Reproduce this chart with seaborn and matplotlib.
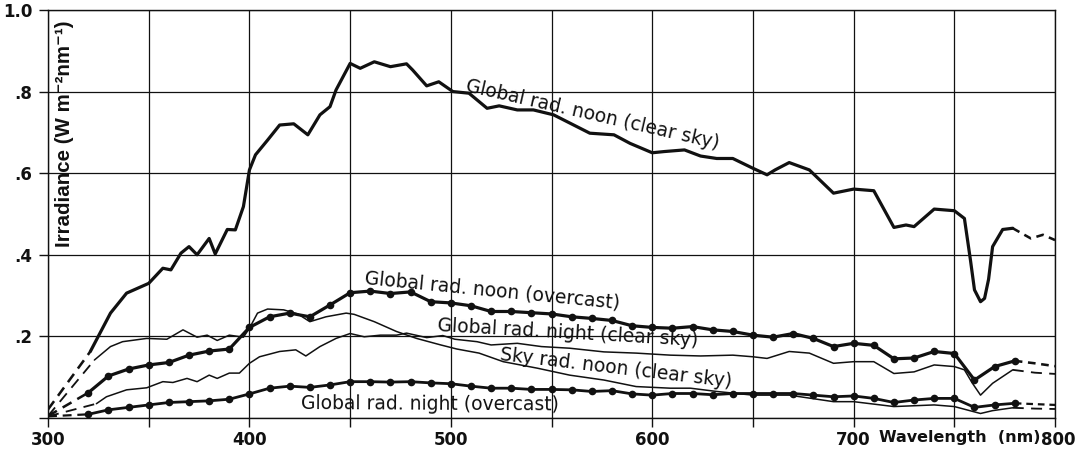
import matplotlib
matplotlib.use("Agg")
import matplotlib.pyplot as plt
import matplotlib.transforms as mtransforms
import seaborn as sns
import pandas as pd

# ---- spectral irradiance data (wavelength in nm, irradiance in W m-2 nm-1) ----
noon_clear_wl = [321, 331, 339, 350, 357, 361, 366, 370, 374, 380, 383, 389, 393, 397,
                 400, 403, 409, 415, 422, 429, 435, 440, 443, 450, 455, 462, 470, 478,
                 481, 488, 494, 501, 509, 518, 524, 533, 541, 551, 561, 569, 581, 589,
                 600, 606, 616, 624, 632, 640, 650, 657, 661, 668, 678, 690, 700, 710,
                 720, 726, 730, 740, 750, 755, 758, 760, 763, 765, 767, 769, 774, 779]
noon_clear_val = [0.163, 0.257, 0.306, 0.330, 0.367, 0.363, 0.404, 0.420, 0.400, 0.440,
                  0.402, 0.462, 0.461, 0.518, 0.608, 0.645, 0.681, 0.718, 0.721, 0.694,
                  0.743, 0.763, 0.804, 0.869, 0.857, 0.873, 0.861, 0.868, 0.853, 0.814,
                  0.824, 0.800, 0.796, 0.759, 0.765, 0.755, 0.755, 0.743, 0.718, 0.698,
                  0.694, 0.673, 0.650, 0.653, 0.657, 0.642, 0.636, 0.636, 0.612, 0.596,
                  0.608, 0.626, 0.608, 0.551, 0.561, 0.557, 0.467, 0.473, 0.469, 0.512,
                  0.508, 0.489, 0.387, 0.314, 0.285, 0.293, 0.340, 0.420, 0.462, 0.465]
noon_clear_uv_wl = [300, 321]
noon_clear_uv_val = [0.021, 0.163]
noon_clear_ir_wl = [779, 788, 794, 800]
noon_clear_ir_val = [0.465, 0.440, 0.449, 0.436]

dot_wl = [320, 330, 340, 350, 360, 370, 380, 390, 400, 410, 420, 430, 440, 450, 460,
          470, 480, 490, 500, 510, 520, 530, 540, 550, 560, 570, 580, 590, 600, 610,
          620, 630, 640, 650, 660, 670, 680, 690, 700, 710, 720, 730, 740, 750, 760,
          770, 780]
noon_overcast_val = [0.062, 0.103, 0.120, 0.130, 0.136, 0.154, 0.164, 0.169, 0.222, 0.248,
                     0.257, 0.248, 0.277, 0.307, 0.311, 0.305, 0.309, 0.285, 0.282, 0.275,
                     0.261, 0.261, 0.258, 0.255, 0.248, 0.244, 0.239, 0.226, 0.222, 0.220,
                     0.224, 0.216, 0.212, 0.203, 0.198, 0.207, 0.195, 0.175, 0.183, 0.178,
                     0.145, 0.147, 0.163, 0.158, 0.093, 0.126, 0.140]
noon_overcast_uv_wl = [300, 320]
noon_overcast_uv_val = [0.005, 0.062]
noon_overcast_ir_wl = [780, 790, 800]
noon_overcast_ir_val = [0.140, 0.134, 0.127]

night_overcast_val = [0.009, 0.020, 0.026, 0.032, 0.038, 0.040, 0.042, 0.046, 0.059, 0.073,
                      0.078, 0.075, 0.081, 0.089, 0.089, 0.088, 0.089, 0.086, 0.084, 0.078,
                      0.073, 0.073, 0.070, 0.070, 0.069, 0.065, 0.067, 0.059, 0.056, 0.060,
                      0.060, 0.057, 0.060, 0.060, 0.060, 0.060, 0.056, 0.052, 0.054, 0.048,
                      0.038, 0.044, 0.048, 0.048, 0.026, 0.032, 0.036]
night_overcast_uv_wl = [300, 320]
night_overcast_uv_val = [0.004, 0.009]
night_overcast_ir_wl = [780, 790, 800]
night_overcast_ir_val = [0.036, 0.034, 0.032]

night_clear_wl = [324, 329, 339, 349, 357, 362, 369, 374, 380, 384, 390, 395, 400, 405,
                  415, 423, 428, 435, 443, 450, 457, 465, 473, 478, 488, 496, 502, 513,
                  520, 533, 545, 559, 576, 592, 609, 624, 640, 650, 657, 668, 678, 690,
                  700, 710, 720, 730, 740, 750, 755, 759, 763, 769, 779]
night_clear_val = [0.035, 0.052, 0.069, 0.074, 0.089, 0.087, 0.097, 0.089, 0.105, 0.097,
                   0.110, 0.110, 0.134, 0.150, 0.163, 0.167, 0.152, 0.175, 0.195, 0.207,
                   0.199, 0.203, 0.203, 0.208, 0.197, 0.202, 0.193, 0.187, 0.179, 0.183,
                   0.175, 0.171, 0.162, 0.159, 0.154, 0.152, 0.154, 0.150, 0.146, 0.163,
                   0.159, 0.134, 0.138, 0.138, 0.109, 0.113, 0.130, 0.126, 0.118, 0.085,
                   0.056, 0.085, 0.118]
night_clear_uv_wl = [300, 324]
night_clear_uv_val = [0.004, 0.035]
night_clear_ir_wl = [779, 790, 800]
night_clear_ir_val = [0.118, 0.111, 0.108]

sky_noon_wl = [323, 331, 337, 349, 359, 367, 374, 379, 384, 390, 397, 400, 404, 409, 417,
               424, 430, 438, 448, 452, 462, 473, 483, 495, 503, 514, 526, 543, 559, 576,
               592, 609, 619, 632, 650, 668, 690, 700, 720, 740, 750, 763, 769, 779]
sky_noon_val = [0.142, 0.175, 0.187, 0.195, 0.193, 0.216, 0.198, 0.203, 0.190, 0.203,
                0.198, 0.220, 0.257, 0.267, 0.265, 0.255, 0.236, 0.248, 0.257, 0.254,
                0.236, 0.212, 0.195, 0.179, 0.169, 0.159, 0.138, 0.122, 0.105, 0.093,
                0.077, 0.073, 0.073, 0.065, 0.056, 0.056, 0.040, 0.040, 0.028, 0.032,
                0.028, 0.011, 0.018, 0.025]
sky_noon_uv_wl = [300, 323]
sky_noon_uv_val = [0.005, 0.142]
sky_noon_ir_wl = [779, 790, 800]
sky_noon_ir_val = [0.025, 0.023, 0.022]

curve_labels = ["Global rad. noon (clear sky)", "Global rad. noon (overcast)",
                "Global rad. night (clear sky)", "Sky rad. noon (clear sky)",
                "Global rad. night (overcast)"]

x_ticks = [300, 350, 400, 450, 500, 550, 600, 650, 700, 750, 800]
x_tick_labels = ["300", "", "400", "", "500", "", "600", "", "700", "", "800"]
y_ticks = [0.0, 0.2, 0.4, 0.6, 0.8, 1.0]
y_tick_labels = ["", ".2", ".4", ".6", ".8", "1.0"]

# ---- styling ----
sns.set_theme(style="white")
plt.rcParams["font.family"] = ["DejaVu Sans"]
YLABEL_FONT = ["Liberation Sans", "DejaVu Sans"]

fig = plt.figure(figsize=(10.87, 4.53), dpi=100)
ax = fig.add_axes([0.0442, 0.0773, 0.9264, 0.9007])

INK = "#111111"
THICK = 2.3
MEDIUM = 2.0
THIN = 1.1


def solid(wl, val, lw, marker=None):
    df = pd.DataFrame({"wl": wl, "val": val})
    sns.lineplot(data=df, x="wl", y="val", ax=ax, color=INK, lw=lw, sort=False,
                 marker=marker, markersize=5.5, markeredgewidth=0,
                 markerfacecolor=INK, zorder=3)


def dashed(wl, val, lw, pattern):
    df = pd.DataFrame({"wl": wl, "val": val})
    sns.lineplot(data=df, x="wl", y="val", ax=ax, color=INK, lw=lw, sort=False,
                 zorder=3, linestyle=(0, pattern))


# global radiation at noon, clear sky
solid(noon_clear_wl, noon_clear_val, THICK)
dashed(noon_clear_uv_wl, noon_clear_uv_val, THICK * 0.8, (4, 2.6))
dashed(noon_clear_ir_wl, noon_clear_ir_val, THICK * 0.8, (3, 2.2))

# global radiation at noon, overcast (dotted curve)
solid(dot_wl, noon_overcast_val, THICK, marker="o")
dashed(noon_overcast_uv_wl, noon_overcast_uv_val, THICK * 0.8, (4, 2.6))
dashed(noon_overcast_ir_wl, noon_overcast_ir_val, THICK * 0.8, (3, 2.2))

# global radiation at night, overcast (dotted curve)
solid(dot_wl, night_overcast_val, MEDIUM, marker="o")
dashed(night_overcast_uv_wl, night_overcast_uv_val, MEDIUM * 0.8, (4, 2.6))
dashed(night_overcast_ir_wl, night_overcast_ir_val, MEDIUM * 0.8, (3, 2.2))

# global radiation at night, clear sky
solid(night_clear_wl, night_clear_val, THIN)
dashed(night_clear_uv_wl, night_clear_uv_val, THIN * 1.2, (6, 4))
dashed(night_clear_ir_wl, night_clear_ir_val, THIN * 1.2, (6, 4))

# sky radiation at noon, clear sky
solid(sky_noon_wl, sky_noon_val, THIN)
dashed(sky_noon_uv_wl, sky_noon_uv_val, THIN * 1.2, (6, 4))
dashed(sky_noon_ir_wl, sky_noon_ir_val, THIN * 1.2, (6, 4))

# ---- curve annotations (anchored at the middle of each baseline) ----
label_pos = [(569.6, 0.731, -12.9), (520.2, 0.300, -5.6), (557.7, 0.194, -3.3),
             (581.8, 0.108, -6.7), (489.7, 0.021, -0.3)]
for text, (lx, ly, rot) in zip(curve_labels, label_pos):
    ax.text(lx, ly, text, ha="center", va="baseline", rotation=rot,
            rotation_mode="anchor", fontsize=13.5, color=INK, zorder=4)

# ---- axes ----
ax.set_xlim(300, 800)
ax.set_ylim(0, 1.0)
ax.set_xticks(x_ticks)
ax.set_xticklabels(x_tick_labels)
ax.set_yticks(y_ticks)
ax.set_yticklabels(y_tick_labels)
ax.set_xlabel("")
ax.set_ylabel("")
ax.grid(True, color=INK, lw=0.9, zorder=1)
ax.set_axisbelow(True)
for side in ax.spines.values():
    side.set_visible(True)
    side.set_color(INK)
    side.set_linewidth(1.0)
ax.tick_params(axis="both", which="major", direction="out", length=6.5, width=1.0,
               color=INK, labelcolor=INK, labelsize=12)
ax.tick_params(axis="x", bottom=True, top=False, pad=3)
ax.tick_params(axis="y", left=True, right=False, pad=5)
for lab in ax.get_xticklabels() + ax.get_yticklabels():
    lab.set_fontweight("bold")

# nudge the last wavelength label slightly to the right
last = ax.get_xticklabels()[-1]
last.set_transform(last.get_transform()
                   + mtransforms.ScaledTranslation(0.03, 0, fig.dpi_scale_trans))

# x-axis title sits between the 700 and 800 tick labels
trans = mtransforms.blended_transform_factory(ax.transData, ax.transAxes)
ax.text(752.5, -0.049, "Wavelength  (nm)", transform=trans, ha="center", va="center",
        fontsize=11.5, fontweight="bold", color=INK)

# y-axis title drawn inside the plotting area
ax.text(308.4, 0.696, "Irradiance (W m\u207b\u00b2nm\u207b\u00b9)", rotation=90,
        ha="center", va="center", fontsize=14.8, fontweight="bold",
        family=YLABEL_FONT, color=INK, zorder=4)

fig.savefig("out.png", dpi=100, facecolor="white")
